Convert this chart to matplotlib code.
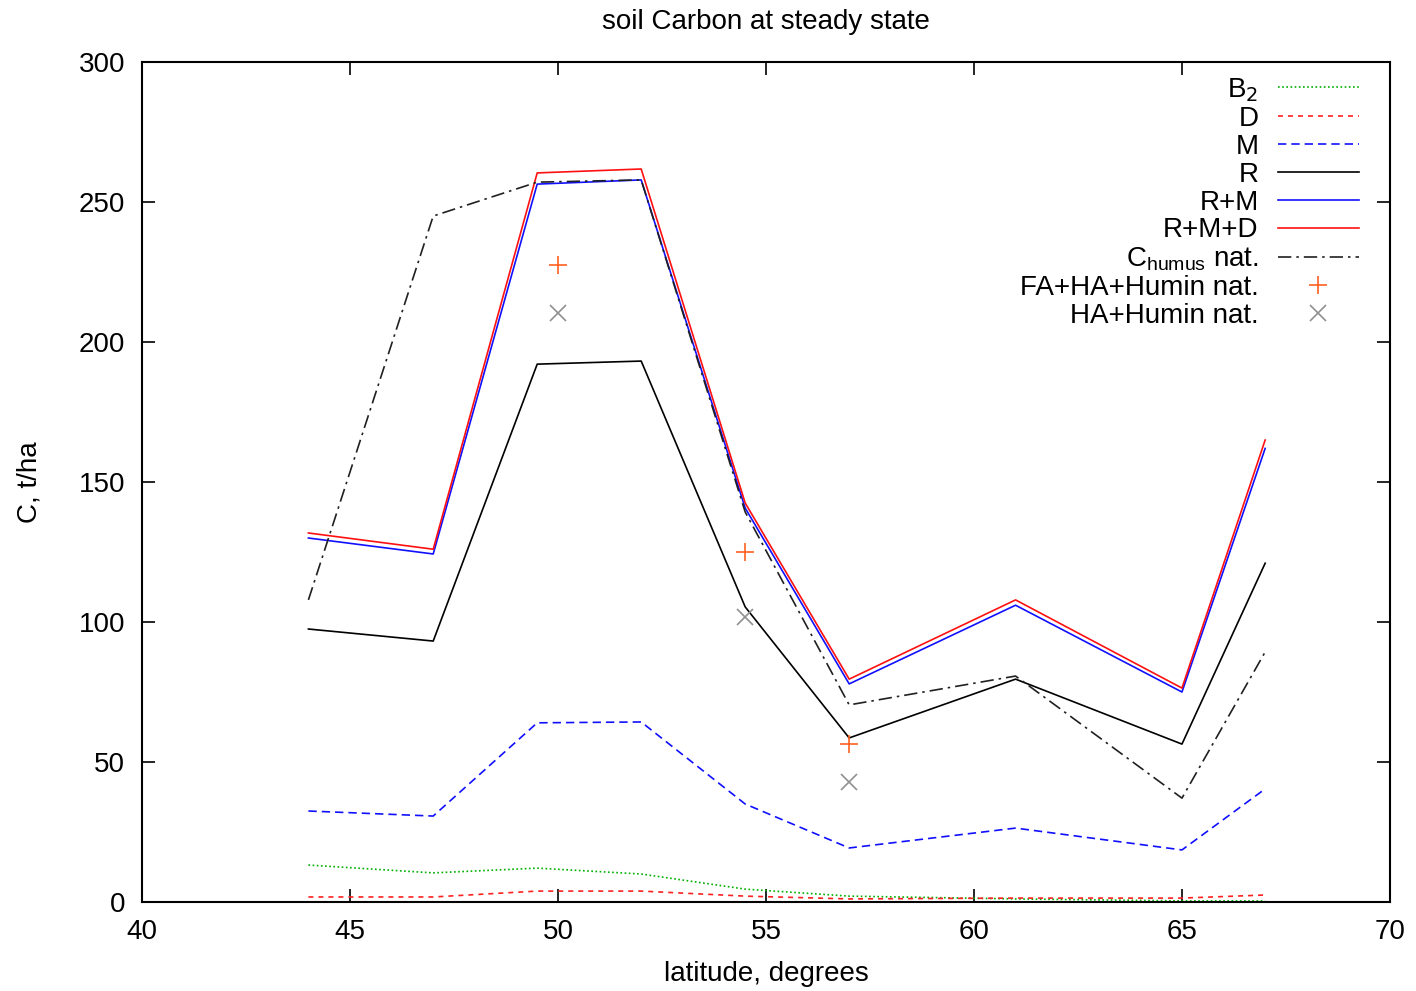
import matplotlib.pyplot as plt
import numpy as np

plt.rcParams['font.family'] = ['Liberation Sans', 'DejaVu Sans']

lat = [44, 47, 49.5, 52, 54.5, 57, 61, 65, 67]
b2 = [13.2, 10.4, 12.1, 10.0, 4.6, 2.1, 1.1, 0.4, 0.4]
d = [1.8, 1.8, 3.9, 3.9, 2.1, 1.1, 1.4, 1.4, 2.5]
m = [32.5, 30.7, 64.0, 64.3, 35.0, 19.3, 26.4, 18.6, 40.4]
r = [97.5, 93.2, 192.1, 193.2, 105.4, 58.6, 79.6, 56.4, 121.0]
rm = [130.0, 124.3, 256.4, 257.9, 140.7, 77.9, 106.0, 75.0, 162.0]
rmd = [131.8, 126.0, 260.4, 261.8, 142.5, 79.6, 107.9, 76.4, 165.0]
c_humus = [107.9, 245.0, 257.1, 257.9, 139.3, 70.4, 80.7, 37.1, 89.3]

lat_obs = [50, 54.5, 57]
fa_ha_humin = [227.5, 125.0, 56.4]
ha_humin = [210.4, 101.8, 42.9]

fs = 20

fig = plt.figure(figsize=(14.16, 9.91), dpi=100)
ax = fig.add_axes([0.1003, 0.0898, 0.8813, 0.8476])

ax.plot(lat, b2, color='#00b000', ls=(0, (1, 1.5)), lw=1.2, label='B$_2$')
ax.plot(lat, d, color='#ff2020', ls=(0, (3, 3)), lw=1.2, label='D')
ax.plot(lat, m, color='#1010ff', ls=(0, (5, 3)), lw=1.2, label='M')
ax.plot(lat, r, color='black', lw=1.2, label='R')
ax.plot(lat, rm, color='#1010ff', lw=1.2, label='R+M')
ax.plot(lat, rmd, color='#ff1010', lw=1.2, label='R+M+D')
ax.plot(lat, c_humus, color='#202020', ls=(0, (8, 3, 1.5, 3)), lw=1.2,
        label='C$_{\\mathregular{humus}}$ nat.')
ax.plot(lat_obs, fa_ha_humin, ls='none', marker='+', ms=13, mew=1.2,
        color='#ff6020', label='FA+HA+Humin nat.')
ax.plot(lat_obs, ha_humin, ls='none', marker='x', ms=11, mew=1.2,
        color='#909090', label='HA+Humin nat.')

ax.set_xlim(40, 70)
ax.set_ylim(0, 300)
ax.set_xticks(np.arange(40, 71, 5))
ax.set_yticks(np.arange(0, 301, 50))
ax.tick_params(direction='in', length=9.5, width=1.2, top=True, right=True,
               labelsize=fs, pad=12)
for s in ax.spines.values():
    s.set_linewidth(1.5)

ax.set_title('soil Carbon at steady state', fontsize=fs, pad=24)
ax.set_xlabel('latitude, degrees', fontsize=fs, labelpad=12)
ax.set_ylabel('C, t/ha', fontsize=fs, labelpad=26)

ax.legend(loc='upper right', bbox_to_anchor=(0.986, 1.0), frameon=False,
          markerfirst=False, fontsize=fs, handlelength=2.9,
          labelspacing=0.07, handletextpad=0.7,
          borderaxespad=0.2, borderpad=0.3)

fig.savefig('out.png', dpi=100)
